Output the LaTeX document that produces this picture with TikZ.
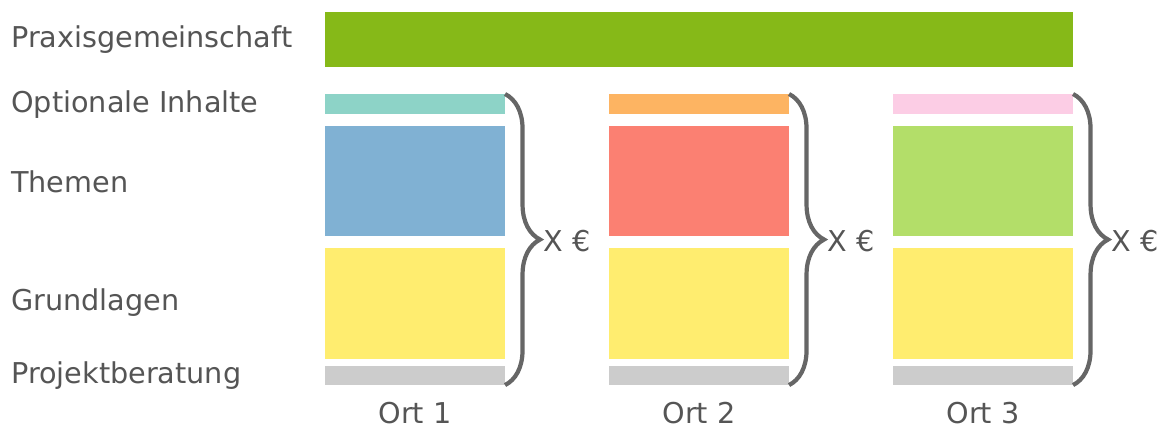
\documentclass[tikz,border=0pt]{standalone}
\usepackage{fontspec}
\setmainfont{DejaVu Sans}
\usetikzlibrary{positioning, calc, decorations.pathreplacing}
\definecolor{praxisgreen}{RGB}{134,185,24}
\definecolor{optteal}{HTML}{8DD3C7}
\definecolor{optorange}{HTML}{FDB462}
\definecolor{optpink}{HTML}{FCCDE5}
\definecolor{themeblue}{HTML}{80B1D3}
\definecolor{themered}{HTML}{FB8072}
\definecolor{themegreen}{HTML}{B3DE69}
\definecolor{basicyellow}{HTML}{FFED6F}
\definecolor{consultgray}{HTML}{CCCCCC}
\definecolor{textgray}{RGB}{85,85,85}
\definecolor{bracegray}{RGB}{102,102,102}

\begin{document}
\begin{tikzpicture}[
    x=0.025cm, y=-0.025cm,
    bar/.style={rectangle, inner sep=0pt, outer sep=0pt, minimum width=4.5cm},
    slimbar/.style={bar, minimum height=0.4875cm},
    themebar/.style={bar, minimum height=2.7625cm},
    basicbar/.style={bar, minimum height=2.775cm, fill=basicyellow},
    consultbar/.style={bar, minimum height=0.475cm, fill=consultgray},
    rowtext/.style={inner sep=0pt, text=textgray, font=\fontsize{20.4}{24}\selectfont},
    curly/.style={decorate, decoration={brace, amplitude=0.875cm}, draw=bracegray, line width=3pt}
]
    \useasboundingbox (0,0) rectangle (1163,428);

    % Row captions
    \node[rowtext, anchor=base west] (praxis) at (11,47) {Praxisgemeinschaft};
    \node[rowtext, anchor=base west] (optional) at (11,112) {Optionale Inhalte};
    \node[rowtext, anchor=base west] (themen) at (11,192) {Themen};
    \node[rowtext, anchor=base west] (grundlagen) at (11,310) {Grundlagen};
    \node[rowtext, anchor=base west] (beratung) at (11,383) {Projektberatung};

    % Shared bar on top
    \node[bar, minimum width=18.7cm, minimum height=1.375cm, fill=praxisgreen, anchor=north west] (common) at (325,11.5) {};

    % Ort 1
    \node[slimbar, fill=optteal, anchor=north west] (opt1) at (325,94) {};
    \node[themebar, fill=themeblue, below=0.3cm of opt1] (them1) {};
    \node[basicbar, below=0.2875cm of them1] (grund1) {};
    \node[consultbar, below=0.1875cm of grund1] (proj1) {};
    \node[rowtext, anchor=base] (ort1) at (415,423) {Ort 1};

    % Ort 2
    \node[slimbar, fill=optorange, anchor=north west] (opt2) at (609,94) {};
    \node[themebar, fill=themered, below=0.3cm of opt2] (them2) {};
    \node[basicbar, below=0.2875cm of them2] (grund2) {};
    \node[consultbar, below=0.1875cm of grund2] (proj2) {};
    \node[rowtext, anchor=base] (ort2) at (699,423) {Ort 2};

    % Ort 3
    \node[slimbar, fill=optpink, anchor=north west] (opt3) at (893,94) {};
    \node[themebar, fill=themegreen, below=0.3cm of opt3] (them3) {};
    \node[basicbar, below=0.2875cm of them3] (grund3) {};
    \node[consultbar, below=0.1875cm of grund3] (proj3) {};
    \node[rowtext, anchor=base] (ort3) at (983,423) {Ort 3};

    % Cost braces
    \draw[curly] (opt1.north east) -- (proj1.south east);
    \draw[curly] (opt2.north east) -- (proj2.south east);
    \draw[curly] (opt3.north east) -- (proj3.south east);
    \node[rowtext, anchor=west, xshift=0.95cm, yshift=-0.05cm] (cost1) at ($(opt1.north east)!0.5!(proj1.south east)$) {X €};
    \node[rowtext, anchor=west, xshift=0.95cm, yshift=-0.05cm] (cost2) at ($(opt2.north east)!0.5!(proj2.south east)$) {X €};
    \node[rowtext, anchor=west, xshift=0.95cm, yshift=-0.05cm] (cost3) at ($(opt3.north east)!0.5!(proj3.south east)$) {X €};
\end{tikzpicture}
\end{document}
